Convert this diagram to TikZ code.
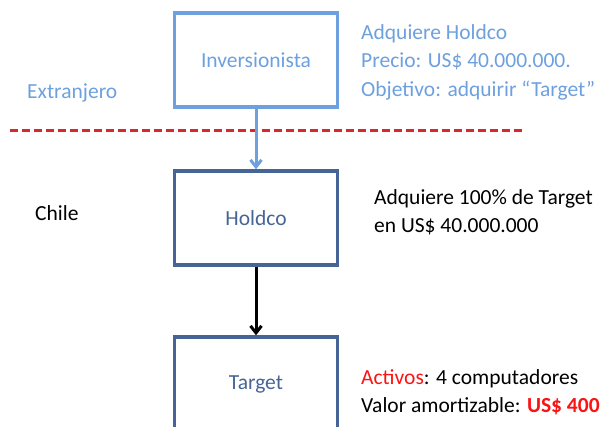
\documentclass[tikz,border=0pt]{standalone}
\usepackage{fontspec}
\setmainfont{Carlito}
\usetikzlibrary{arrows.meta}
\definecolor{lblue}{RGB}{108,160,222}
\definecolor{dblue}{RGB}{70,100,150}
\definecolor{dred}{RGB}{215,40,45}
\definecolor{bred}{RGB}{250,20,20}
\tikzset{
  box/.style={draw, line width=3.4pt, minimum width=163pt, minimum height=94pt, inner sep=0pt, font=\fontsize{21.5}{26}\selectfont},
  lbl/.style={anchor=west, inner sep=0pt, align=left, font=\fontsize{21.5}{28.5}\selectfont},
  arr/.style={line width=3pt, -{Straight Barb[length=7pt,width=11pt]}},
}
\begin{document}
\begin{tikzpicture}[x=1pt,y=-1pt]
\clip (0,0) rectangle (604,427);
\useasboundingbox (0,0) rectangle (604,427);
\node[box, draw=lblue, text=lblue] (inv) at (256,60) {Inversionista};
\node[box, draw=dblue, text=dblue] (hold) at (256,218) {Holdco};
\node[box, draw=dblue, text=dblue] (target) at (256,384) {Target};
\coordinate (dl) at (10,131);
\coordinate (dr) at (522,131);
\draw[dred, line width=3pt, dash pattern=on 7.5pt off 4.5pt] (dl) -- (dr);
\draw[arr, lblue] (inv) -- (hold);
\draw[arr, black] (hold) -- (target);
\node[lbl, text=lblue] (ext) at (27,93) {Extranjero};
\node[lbl] (chile) at (35,213) {Chile};
\node[lbl, text=lblue, anchor=north west] (t1) at (361,24) {Adquiere Holdco\\Precio: US\$ 40.000.000.\\Objetivo: adquirir “Target”};
\node[lbl, anchor=north west] (t2) at (374,189) {Adquiere 100\% de Target\\en US\$ 40.000.000};
\node[lbl, anchor=north west] (t3) at (361,369) {\textcolor{bred}{Activos}: 4 computadores\\Valor amortizable: \textcolor{bred}{\textbf{US\$ 400}}};
\end{tikzpicture}
\end{document}
